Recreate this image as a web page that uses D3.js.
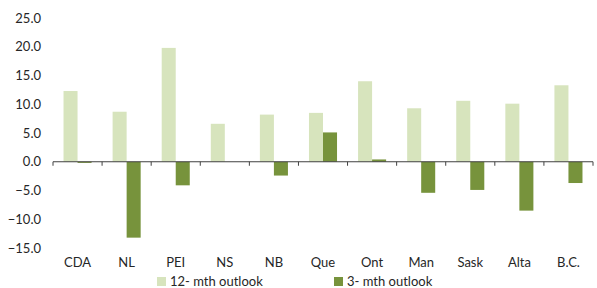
<!DOCTYPE html>
<html><head><meta charset="utf-8">
<script src="https://cdn.jsdelivr.net/npm/d3@7"></script>
<style>body{margin:0;background:#fff}svg{display:block}text{font-family:Lato,"Open Sans",sans-serif;fill:#262626}</style>
</head><body><svg id="c" width="597" height="288"></svg>
<script>
const categories = ["CDA","NL","PEI","NS","NB","Que","Ont","Man","Sask","Alta","B.C."];
const outlook12 = [12.3, 8.7, 19.8, 6.6, 8.2, 8.5, 14.0, 9.3, 10.6, 10.1, 13.3];
const outlook3 = [-0.2, -13.2, -4.1, 0.0, -2.4, 5.1, 0.4, -5.4, -4.9, -8.5, -3.7];
const seriesNames = ["12- mth outlook","3- mth outlook"];
const yTicks = [25,20,15,10,5,0,-5,-10,-15];
const colors = ["#d7e4bd","#77933c"];

const svg = d3.select("#c");
const left = 53, right = 593;
const y = d3.scaleLinear().domain([-15,25]).range([248,18]);
const x = d3.scaleBand().domain(categories).range([left,right]).paddingInner(0).paddingOuter(0);
const bw = x.bandwidth();
const x1 = d3.scaleBand().domain([0,1]).range([0,bw]).paddingInner(0).paddingOuter(0.75);

// y labels
svg.append("g").selectAll("text").data(yTicks).join("text")
  .attr("x",41).attr("y",d=>y(d)).attr("dy","0.35em").attr("text-anchor","end")
  .attr("font-size",13).text(d=>d3.format(".1f")(d));

const series = [outlook12, outlook3];
series.forEach((vals,si)=>{
  svg.append("g").selectAll("rect").data(vals).join("rect")
    .attr("x",(d,i)=>x(categories[i])+x1(si))
    .attr("width",x1.bandwidth())
    .attr("y",d=>y(Math.max(0,d)))
    .attr("height",d=>Math.abs(y(d)-y(0)))
    .attr("fill",colors[si]);
});

// x axis
const ax = svg.append("g");
ax.append("line").attr("x1",left).attr("x2",right).attr("y1",y(0)).attr("y2",y(0)).attr("stroke","#404040").attr("stroke-width",1);
const bounds = categories.map(c=>x(c)).concat([right]);
ax.selectAll("line.t").data(bounds).join("line").attr("class","t")
  .attr("x1",d=>d).attr("x2",d=>d).attr("y1",y(0)).attr("y2",y(0)+4).attr("stroke","#404040");
svg.append("g").selectAll("text").data(categories).join("text")
  .attr("x",d=>x(d)+bw/2).attr("y",262).attr("dy","0.35em").attr("text-anchor","middle")
  .attr("font-size",13).text(d=>d);

// legend
const lx = [157, 334];
seriesNames.forEach((n,i)=>{
  svg.append("rect").attr("x",lx[i]).attr("y",277).attr("width",9).attr("height",9).attr("fill",colors[i]);
  svg.append("text").attr("x",lx[i]+13).attr("y",281.5).attr("dy","0.35em").attr("font-size",13).text(n);
});
</script></body></html>
